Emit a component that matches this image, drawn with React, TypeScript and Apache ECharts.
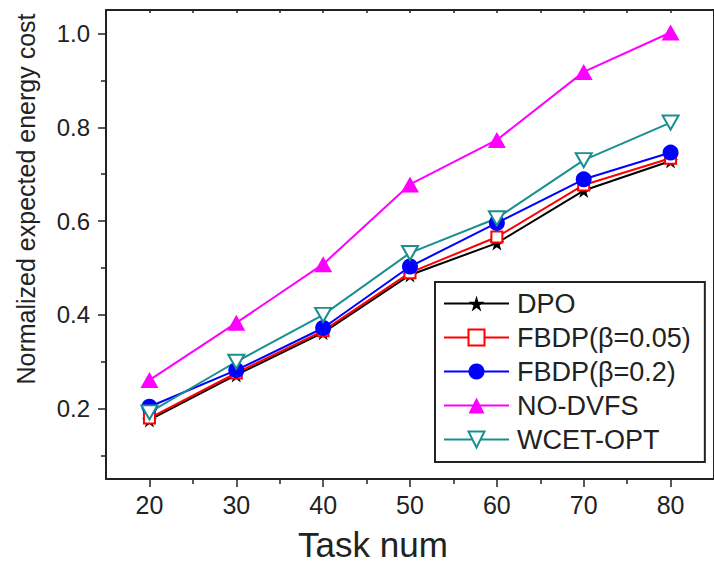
import React, { useEffect, useRef } from "react";
import * as echarts from "echarts";

// Number of tasks on the x axis
const taskNums = [20, 30, 40, 50, 60, 70, 80];

// Normalized expected energy cost per scheme
const dpo = [0.176, 0.272, 0.362, 0.485, 0.553, 0.665, 0.728];
const fbdp005 = [0.180, 0.276, 0.366, 0.490, 0.566, 0.677, 0.734];
const fbdp02 = [0.204, 0.282, 0.372, 0.503, 0.596, 0.689, 0.746];
const noDvfs = [0.261, 0.383, 0.508, 0.678, 0.773, 0.918, 1.002];
const wcetOpt = [0.192, 0.300, 0.400, 0.532, 0.606, 0.730, 0.810];

// Axis ticks
const xMajor = [20, 30, 40, 50, 60, 70, 80];
const xMinor = [25, 35, 45, 55, 65, 75];
const yMajor = [0.2, 0.4, 0.6, 0.8, 1.0];
const yMinor = [0.1, 0.3, 0.5, 0.7, 0.9];

const FONT = "'Liberation Sans', Arial, sans-serif";
const INK = "#222";

const STAR = "path://M50,0 L61,35 L98,35 L68,57 L79,91 L50,70 L21,91 L32,57 L2,35 L39,35 Z";
const DOWN_TRI = "path://M0,0 L20,0 L10,18 Z";

const pairs = (ys: number[]) => taskNums.map((x, i) => [x, ys[i]]);

export default function App() {
  const ref = useRef<HTMLDivElement>(null);

  useEffect(() => {
    if (!ref.current) return;
    const chart = echarts.init(ref.current, undefined, { renderer: "svg" });

    const lineSeries = (
      name: string,
      ys: number[],
      color: string,
      symbol: string,
      symbolSize: number | number[],
      hollow: boolean
    ) => ({
      name,
      type: "line",
      data: pairs(ys),
      symbol,
      symbolSize,
      showAllSymbol: true,
      lineStyle: { color, width: 2 },
      itemStyle: hollow
        ? { color: "#fff", borderColor: color, borderWidth: 2 }
        : { color, borderColor: color, borderWidth: 0 },
      emphasis: { disabled: true },
    });

    const hiddenLine = { show: false };

    chart.setOption({
      animation: false,
      backgroundColor: "#fff",
      textStyle: { fontFamily: FONT },
      grid: { left: 106, top: 10, width: 613, height: 469, containLabel: false },
      xAxis: [
        {
          type: "value",
          min: 15,
          max: 85,
          position: "bottom",
          axisLine: { show: true, lineStyle: { color: INK, width: 2 } },
          axisTick: {
            show: true,
            inside: false,
            length: 8,
            customValues: xMajor,
            lineStyle: { color: INK, width: 1.5 },
          },
          axisLabel: {
            show: true,
            customValues: xMajor,
            margin: 13,
            fontSize: 25,
            color: INK,
            fontFamily: FONT,
          },
          splitLine: { show: false },
        },
        {
          type: "value",
          min: 15,
          max: 85,
          position: "bottom",
          axisLine: hiddenLine,
          axisTick: {
            show: true,
            inside: false,
            length: 5,
            customValues: xMinor,
            lineStyle: { color: INK, width: 1.5 },
          },
          axisLabel: { show: false },
          splitLine: { show: false },
        },
        {
          type: "value",
          min: 15,
          max: 85,
          position: "top",
          axisLine: { show: true, lineStyle: { color: INK, width: 2 } },
          axisTick: {
            show: true,
            inside: true,
            length: 3,
            customValues: [...xMajor, ...xMinor],
            lineStyle: { color: INK, width: 1.5 },
          },
          axisLabel: { show: false },
          splitLine: { show: false },
        },
      ],
      yAxis: [
        {
          type: "value",
          min: 0.05,
          max: 1.05,
          position: "left",
          axisLine: { show: true, lineStyle: { color: INK, width: 2 } },
          axisTick: {
            show: true,
            inside: false,
            length: 8,
            customValues: yMajor,
            lineStyle: { color: INK, width: 1.5 },
          },
          axisLabel: {
            show: true,
            customValues: yMajor,
            margin: 16,
            fontSize: 24,
            color: INK,
            fontFamily: FONT,
            formatter: (v: number) => v.toFixed(1),
          },
          splitLine: { show: false },
        },
        {
          type: "value",
          min: 0.05,
          max: 1.05,
          position: "left",
          axisLine: hiddenLine,
          axisTick: {
            show: true,
            inside: false,
            length: 5,
            customValues: yMinor,
            lineStyle: { color: INK, width: 1.5 },
          },
          axisLabel: { show: false },
          splitLine: { show: false },
        },
        {
          type: "value",
          min: 0.05,
          max: 1.05,
          position: "right",
          axisLine: { show: true, lineStyle: { color: INK, width: 2 } },
          axisTick: { show: false },
          axisLabel: { show: false },
          splitLine: { show: false },
        },
      ],
      legend: {
        orient: "vertical",
        left: 435,
        top: 282,
        padding: [8, 14, 9, 8],
        itemGap: 7,
        itemWidth: 65,
        itemHeight: 20,
        borderColor: INK,
        borderWidth: 2,
        backgroundColor: "#fff",
        selectedMode: false,
        textStyle: { fontSize: 27, color: INK, fontFamily: FONT, padding: [0, 0, 0, 3] },
        data: ["DPO", "FBDP(β=0.05)", "FBDP(β=0.2)", "NO-DVFS", "WCET-OPT"],
      },
      graphic: [
        {
          type: "text",
          x: 26,
          y: 199,
          rotation: Math.PI / 2,
          style: {
            text: "Normalized expected energy cost",
            fontSize: 25,
            fontFamily: FONT,
            fill: INK,
            textAlign: "center",
            textVerticalAlign: "middle",
          },
        },
        {
          type: "text",
          x: 373,
          y: 544,
          style: {
            text: "Task num",
            fontSize: 35,
            fontFamily: FONT,
            fill: INK,
            textAlign: "center",
            textVerticalAlign: "middle",
          },
        },
      ],
      series: [
        lineSeries("DPO", dpo, "#000000", STAR, 15, false),
        lineSeries("FBDP(β=0.05)", fbdp005, "#ff0000", "rect", 11, true),
        lineSeries("FBDP(β=0.2)", fbdp02, "#0000ff", "circle", 16, false),
        lineSeries("NO-DVFS", noDvfs, "#ff00ff", "triangle", [18, 16], false),
        lineSeries("WCET-OPT", wcetOpt, "#1a8f8f", DOWN_TRI, [16, 14], true),
      ],
    });

    return () => chart.dispose();
  }, []);

  return (
    <div
      ref={ref}
      style={{ position: "absolute", left: 0, top: 0, width: 714, height: 562, overflow: "hidden" }}
    />
  );
}
